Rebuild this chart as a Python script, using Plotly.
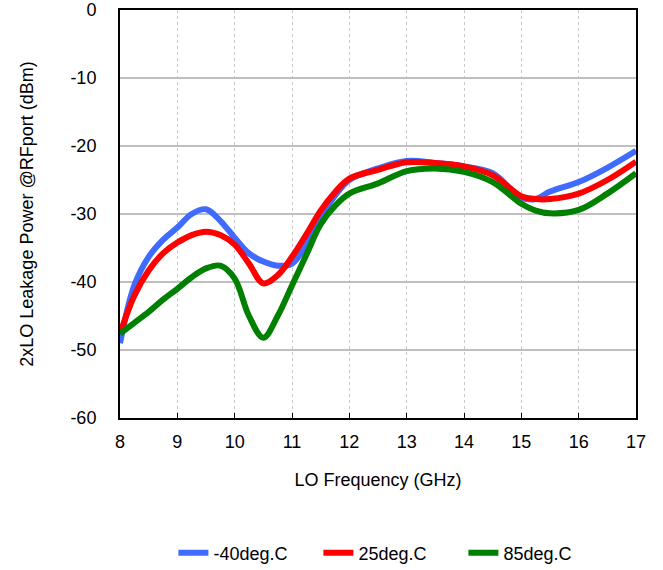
import plotly.graph_objects as go

freq = [8.0, 8.25, 8.5, 8.75, 9.0, 9.25, 9.5, 9.75, 10.0, 10.25, 10.5, 10.75, 11.0, 11.25, 11.5, 11.75, 12.0, 12.5, 13.0, 13.5, 14.0, 14.5, 15.0, 15.25, 15.5, 16.0, 16.5, 17.0]

m40 = [-49.0, -40.5, -36.3, -33.8, -32.0, -30.0, -29.3, -31.0, -33.5, -35.8, -37.0, -37.6, -37.3, -34.5, -30.5, -27.3, -25.0, -23.3, -22.2, -22.5, -23.0, -24.0, -27.6, -27.8, -26.7, -25.3, -23.2, -20.7]
p25 = [-47.6, -42.0, -38.3, -35.8, -34.2, -33.1, -32.6, -33.1, -34.5, -37.3, -40.2, -39.0, -36.3, -33.0, -29.5, -26.8, -24.8, -23.5, -22.4, -22.5, -23.0, -24.3, -27.4, -27.8, -27.8, -27.0, -25.0, -22.3]
p85 = [-47.6, -46.0, -44.4, -42.6, -41.0, -39.3, -38.0, -37.6, -39.5, -45.0, -48.2, -45.0, -40.5, -36.0, -31.5, -28.8, -27.0, -25.5, -23.7, -23.3, -23.8, -25.3, -28.5, -29.5, -29.9, -29.4, -27.0, -24.0]

names = ["-40deg.C", "25deg.C", "85deg.C"]
colors = ["#3F6CFF", "#FF0000", "#008000"]
series = [m40, p25, p85]

x_ticks = [8, 9, 10, 11, 12, 13, 14, 15, 16, 17]
y_ticks = [0, -10, -20, -30, -40, -50, -60]

fig = go.Figure()
for nm, col, ys in zip(names, colors, series):
    fig.add_trace(go.Scatter(x=freq, y=ys, name=nm, mode="lines",
                             line=dict(color=col, width=6, shape="spline", smoothing=1.0)))

font_family = "Liberation Sans, Arial, sans-serif"
fig.update_layout(
    width=663, height=570,
    margin=dict(l=120, r=27, t=10, b=152, autoexpand=False),
    paper_bgcolor="white", plot_bgcolor="white",
    font=dict(family=font_family, size=18, color="black"),
    showlegend=True,
    legend=dict(orientation="h", x=0.525, xanchor="center", y=-0.331, yanchor="middle",
                font=dict(size=18), tracegroupgap=0,
                entrywidth=100, entrywidthmode="pixels"),
)
fig.update_xaxes(range=[8, 17], tickvals=x_ticks, ticktext=[str(v) for v in x_ticks],
                 showgrid=True, gridcolor="#C8C8C8", griddash="dot", gridwidth=1,
                 showline=True, linecolor="black", linewidth=2, mirror=True,
                 ticks="inside", ticklen=5, tickcolor="black",
                 ticklabelstandoff=6,
                 zeroline=False, automargin=False,
                 title=dict(text="LO Frequency (GHz)", font=dict(size=18), standoff=23))
fig.update_yaxes(range=[-60, 0], tickvals=y_ticks, ticktext=[str(v) for v in y_ticks],
                 showgrid=True, gridcolor="#BFBFBF", gridwidth=2,
                 showline=True, linecolor="black", linewidth=2, mirror=True,
                 ticks="", zeroline=False, automargin=False,
                 ticklabelstandoff=18,
                 title=dict(text="2xLO Leakage Power @RFport (dBm)", font=dict(size=18), standoff=32))

fig.write_html("out.html")
